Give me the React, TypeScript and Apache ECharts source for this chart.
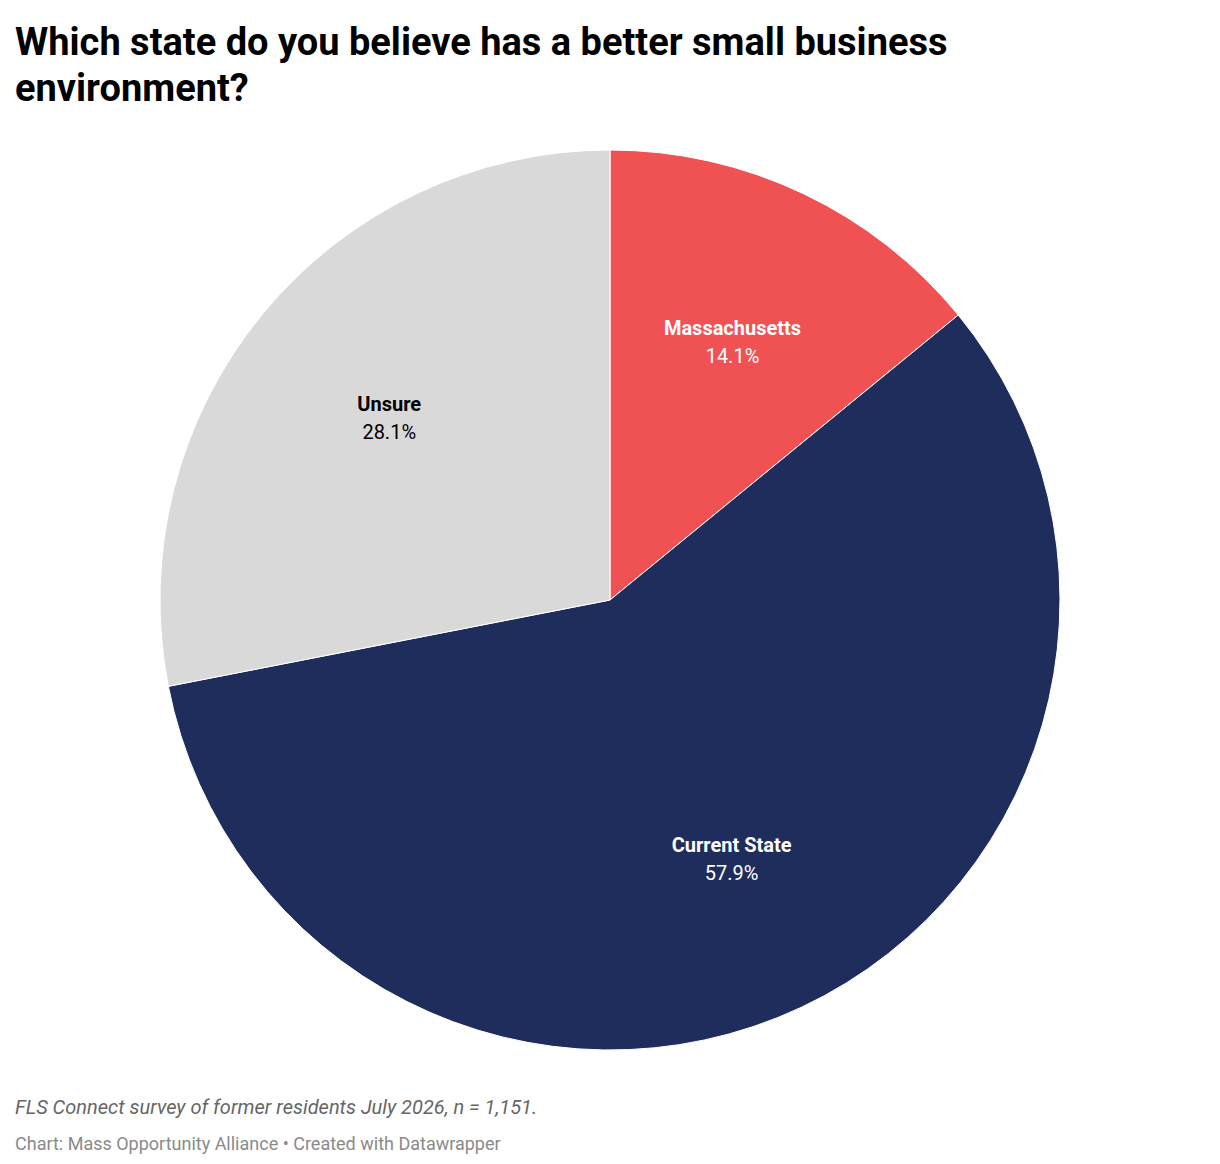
import React, { useEffect, useRef } from "react";
import * as echarts from "echarts";

const categories = ["Massachusetts", "Current State", "Unsure"];
const shares = [14.1, 57.9, 28.1];
const colors = ["#f05153", "#1e2d5c", "#d9d9d9"];
const labelColors = ["#ffffff", "#ffffff", "#000000"];

const App: React.FC = () => {
  const chartRef = useRef<HTMLDivElement>(null);

  useEffect(() => {
    const chart = echarts.init(chartRef.current, null, { renderer: "svg" });
    const data = categories.map((name, i) => ({
      name,
      value: shares[i],
      itemStyle: { color: colors[i] },
    }));
    chart.setOption({
      animation: false,
      textStyle: { fontFamily: "Roboto" },
      title: [
        {
          text: "Which state do you believe has a better small business\nenvironment?",
          left: 10,
          top: 14,
          textStyle: { fontSize: 38, fontWeight: "bold", color: "#000", lineHeight: 46, fontFamily: "Roboto" },
        },
        {
          text: "FLS Connect survey of former residents July 2026, n = 1,151.",
          left: 10,
          top: 1092,
          textStyle: { fontSize: 20, fontStyle: "italic", fontWeight: "normal", color: "#666", fontFamily: "Roboto" },
        },
        {
          text: "Chart: Mass Opportunity Alliance • Created with Datawrapper",
          left: 10,
          top: 1129,
          textStyle: { fontSize: 18, fontWeight: "normal", color: "#8a8a8a", fontFamily: "Roboto" },
        },
      ],
      series: [
        {
          type: "pie",
          center: [610, 600],
          radius: 450,
          startAngle: 90,
          clockwise: true,
          label: { show: false },
          labelLine: { show: false },
          itemStyle: { borderColor: "#fff", borderWidth: 1 },
          emphasis: { disabled: true },
          data,
        },
        {
          type: "pie",
          center: [610, 600],
          radius: 566,
          startAngle: 90,
          clockwise: true,
          silent: true,
          itemStyle: { color: "transparent" },
          labelLine: { show: false },
          label: {
            show: true,
            position: "inside",
            formatter: (p: any) => `{b|${p.name}}\n{v|${p.value.toFixed(1)}%}`,
            rich: {
              b: { fontSize: 20, fontWeight: "bold", lineHeight: 28, fontFamily: "Roboto" },
              v: { fontSize: 20, lineHeight: 28, fontFamily: "Roboto" },
            },
          },
          data: data.map((d, i) => ({
            name: d.name,
            value: d.value,
            itemStyle: { color: "transparent" },
            label: { color: labelColors[i], rich: { b: { color: labelColors[i] }, v: { color: labelColors[i] } } },
          })),
        },
      ],
    });
    return () => chart.dispose();
  }, []);

  return <div ref={chartRef} style={{ width: 1220, height: 1164, margin: -8, background: "#fff" }} />;
};

export default App;
